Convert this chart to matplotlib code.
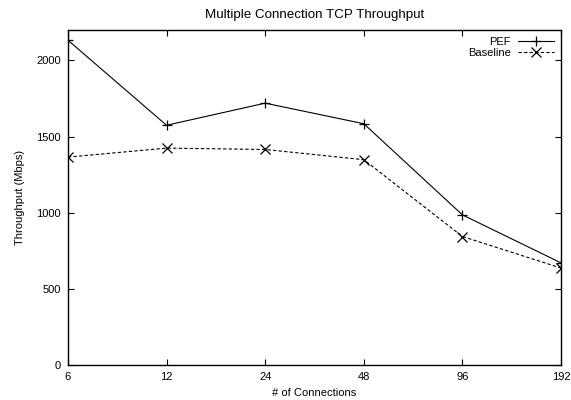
import matplotlib
matplotlib.use("Agg")
import matplotlib.pyplot as plt

connections = [6, 12, 24, 48, 96, 192]
pef = [2133, 1575, 1720, 1585, 987, 672]
baseline = [1366, 1425, 1416, 1349, 845, 638]
yticks = [0, 500, 1000, 1500, 2000]

plt.rcParams['font.family'] = ['Liberation Sans', 'DejaVu Sans']
plt.rcParams['font.size'] = 8

fig = plt.figure(figsize=(5.71, 4.0), dpi=100)
ax = fig.add_axes([0.119, 0.0868, 0.8635, 0.8382])

ax.plot(connections, pef, color='black', lw=0.8, marker='+', ms=7, mew=0.9, label='PEF')
ax.plot(connections, baseline, color='black', lw=0.8, ls=(0, (3, 2)), marker='x', ms=7.5, mew=0.9, label='Baseline')

ax.set_xscale('log', base=2)
ax.set_xlim(6, 192)
ax.set_ylim(0, 2200)
ax.set_xticks(connections)
ax.set_xticklabels([str(c) for c in connections])
ax.minorticks_off()
ax.set_yticks(yticks)
ax.tick_params(direction='in', length=4, width=0.8, top=True, right=True, pad=5)
for s in ax.spines.values():
    s.set_linewidth(1.0)

ax.set_xlabel('# of Connections', labelpad=4)
ax.set_ylabel('Throughput (Mbps)', labelpad=8)
ax.set_title('Multiple Connection TCP Throughput', pad=8.8)

ax.legend(loc='upper right', frameon=False, markerfirst=False, handlelength=3.3,
          handletextpad=0.6, labelspacing=0.12, borderaxespad=0.3, borderpad=0.3)

fig.savefig('out.png', dpi=100)
